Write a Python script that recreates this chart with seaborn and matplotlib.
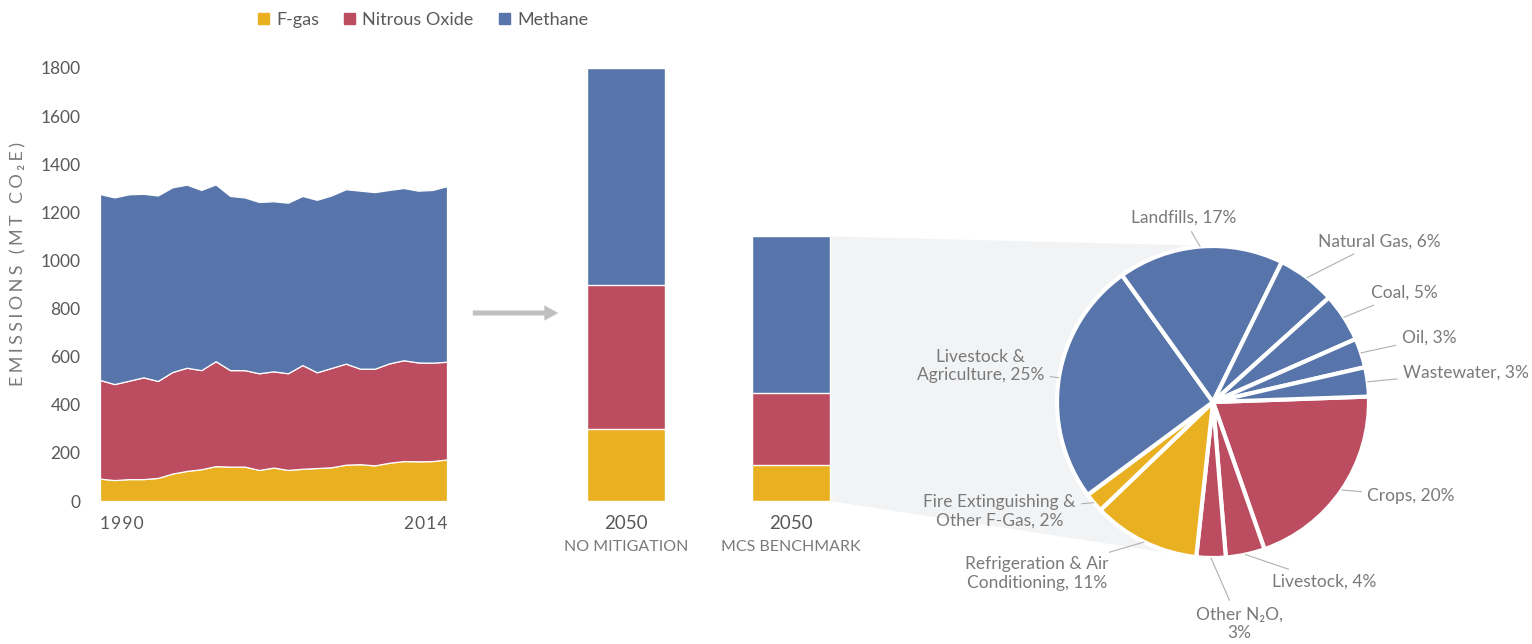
import numpy as np
import pandas as pd
import matplotlib
matplotlib.use("Agg")
import matplotlib.pyplot as plt
import seaborn as sns
from matplotlib.patches import Patch, Polygon, FancyArrowPatch

# --- data ---
years = list(range(1990, 2015))
fgas = [93, 87, 91, 91, 96, 114, 125, 132, 145, 143, 143, 129, 139,
        129, 134, 137, 140, 151, 153, 148, 159, 166, 165, 166, 173]
nitrous = [410, 399, 409, 423, 403, 422, 429, 412, 436, 401, 401, 402, 400,
           402, 431, 398, 413, 420, 397, 402, 413, 419, 411, 409, 406]
methane = [773, 776, 775, 763, 771, 768, 761, 749, 735, 724, 718, 712, 707,
           709, 703, 717, 717, 725, 740, 734, 721, 716, 714, 718, 730]

scenarios = ["NO MITIGATION", "MCS BENCHMARK"]
fgas_2050 = [300, 150]
nitrous_2050 = [600, 300]
methane_2050 = [900, 650]

pie_labels = ["Crops, 20%", "Livestock, 4%", "Other N\u2082O,\n3%",
              "Refrigeration & Air\nConditioning, 11%",
              "Fire Extinguishing &\nOther F-Gas, 2%",
              "Livestock &\nAgriculture, 25%", "Landfills, 17%",
              "Natural Gas, 6%", "Coal, 5%", "Oil, 3%", "Wastewater, 3%"]
pie_values = [20, 4, 3, 11, 2, 25, 17, 6, 5, 3, 3]
pie_gas = ["N", "N", "N", "F", "F", "M", "M", "M", "M", "M", "M"]

# --- style ---
C_F, C_N, C_M = "#E9B021", "#BC4D60", "#5775AA"
gas_colors = {"F": C_F, "N": C_N, "M": C_M}
TXT = "#595959"
LBL = "#7a7a7a"

sns.set_theme(style="white")
plt.rcParams["font.family"] = ["Lato", "DejaVu Sans"]

W, H = 1532, 644
fig = plt.figure(figsize=(W / 100, H / 100), dpi=100)

def px_axes(left, top, right, bottom):
    return fig.add_axes([left / W, 1 - bottom / H, (right - left) / W, (bottom - top) / H])

def spaced(s, sep="\u200a"):
    # poor man's letter spacing
    return sep.join(s)

# --- area chart 1990-2014 ---
ax = px_axes(100, 68, 447, 501)
ax.stackplot(years, fgas, nitrous, methane, colors=[C_F, C_N, C_M],
             edgecolor="white", linewidth=0.9)
ax.set_xlim(1990, 2014)
ax.set_ylim(0, 1800)
ax.set_yticks(range(0, 1801, 200))
ax.set_xticks([1990, 2014])
ax.set_xticklabels([spaced("1990"), spaced("2014")])
for lab, ha in zip(ax.get_xticklabels(), ["left", "right"]):
    lab.set_ha(ha)
ax.get_xticklabels()[1].set_x(2014.3)
ax.tick_params(axis="y", length=0, pad=14, labelsize=12.5, labelcolor=TXT)
ax.tick_params(axis="x", length=0, pad=11, labelsize=12.5, labelcolor=TXT)
sns.despine(ax=ax, left=True, bottom=True)
ax.set_facecolor("none")

fig.text(18 / W, 1 - 264 / H, spaced("EMISSIONS (MT CO\u2082E)", "\u2009\u200a"), rotation=90,
         ha="center", va="center", fontsize=13, color=LBL)

# --- arrow ---
fig.add_artist(FancyArrowPatch(
    (470 / W, 1 - 313 / H), (561 / W, 1 - 313 / H), transform=fig.transFigure,
    arrowstyle="simple,head_length=1.0,head_width=1.1,tail_width=0.36",
    mutation_scale=10, lw=0, color="#bfbfbf"))

# --- 2050 stacked bars (seaborn layered) ---
axb = px_axes(543.5, 68, 873.5, 501)
df = pd.DataFrame({"scenario": scenarios, "F-gas": fgas_2050,
                   "Nitrous Oxide": nitrous_2050, "Methane": methane_2050})
df["n_top"] = df["F-gas"] + df["Nitrous Oxide"]
df["total"] = df["n_top"] + df["Methane"]
for col, c in [("total", C_M), ("n_top", C_N), ("F-gas", C_F)]:
    sns.barplot(data=df, x="scenario", y=col, color=c, saturation=1,
                width=0.467, edgecolor="white", linewidth=1, errorbar=None, ax=axb)
axb.set_xlim(-0.5, 1.5)
axb.set_ylim(0, 1800)
axb.axis("off")
for i, s in enumerate(scenarios):
    axb.text(i, -0.053, "2050", transform=axb.get_xaxis_transform(),
             ha="center", va="center", fontsize=13.5, color=TXT)
    axb.text(i, -0.106, s, transform=axb.get_xaxis_transform(),
             ha="center", va="center", fontsize=11.5, color=LBL)

# --- pie ---
R = 156
axp = px_axes(1213 - R, 402 - R, 1213 + R, 402 + R)
wedges, _ = axp.pie(pie_values, colors=[gas_colors[g] for g in pie_gas],
                    startangle=2, counterclock=False,
                    wedgeprops=dict(edgecolor="white", linewidth=3))
axp.set_xlim(-1, 1)
axp.set_ylim(-1, 1)
axp.set_facecolor("none")

# label anchor positions (pie units) and alignment
label_pos = [(0.99, -0.60, "left"), (0.38, -1.15, "left"), (0.17, -1.42, "center"),
             (-1.13, -1.10, "center"), (-1.37, -0.70, "center"),
             (-1.49, 0.23, "center"), (-0.19, 1.18, "center"),
             (0.67, 1.03, "left"), (1.01, 0.70, "left"), (1.21, 0.41, "left"),
             (1.22, 0.19, "left")]
for w, lab, (lx, ly, ha) in zip(wedges, pie_labels, label_pos):
    mid = np.deg2rad((w.theta1 + w.theta2) / 2)
    axp.annotate(lab, xy=(np.cos(mid), np.sin(mid)), xytext=(lx, ly),
                 ha=ha, va="center", multialignment="center",
                 fontsize=12.5, color=LBL, annotation_clip=False,
                 arrowprops=dict(arrowstyle="-", color="#b0b0b0", lw=0.8,
                                 shrinkA=2, shrinkB=0))

# --- grey projection from the benchmark bar to the pie ---
fig.canvas.draw()
bar_patch = max((p for p in axb.patches), key=lambda p: (p.get_x(), p.get_height()))
bx = bar_patch.get_x() + bar_patch.get_width()
p_top = axb.transData.transform((bx, bar_patch.get_height()))
p_bot = axb.transData.transform((bx, 0))
c = axp.transData.transform((0, 0))
r = axp.transData.transform((1, 0))[0] - c[0]

def tangent(p, upper):
    d = np.hypot(*(p - c))
    phi = np.arctan2(p[1] - c[1], p[0] - c[0])
    a = np.arccos(r / d)
    pts = [c + r * np.array([np.cos(phi + s * a), np.sin(phi + s * a)]) for s in (1, -1)]
    return max(pts, key=lambda q: q[1]) if upper else min(pts, key=lambda q: q[1])

poly_px = np.array([p_top, tangent(p_top, True), c, tangent(p_bot, False), p_bot])
poly = fig.transFigure.inverted().transform(poly_px)
fig.add_artist(Polygon(poly, closed=True, transform=fig.transFigure,
                       facecolor="#f2f3f5", edgecolor="none", zorder=-1))

# --- legend ---
handles = [Patch(color=C_F, label="F-gas"), Patch(color=C_N, label="Nitrous Oxide"),
           Patch(color=C_M, label="Methane")]
fig.legend(handles=handles, loc="center", bbox_to_anchor=(423 / W, 1 - 20 / H), ncol=3,
           frameon=False, fontsize=13, handlelength=0.6, handleheight=0.6,
           handletextpad=0.4, columnspacing=1.4, labelcolor=TXT)

fig.savefig("out.png", dpi=100)
